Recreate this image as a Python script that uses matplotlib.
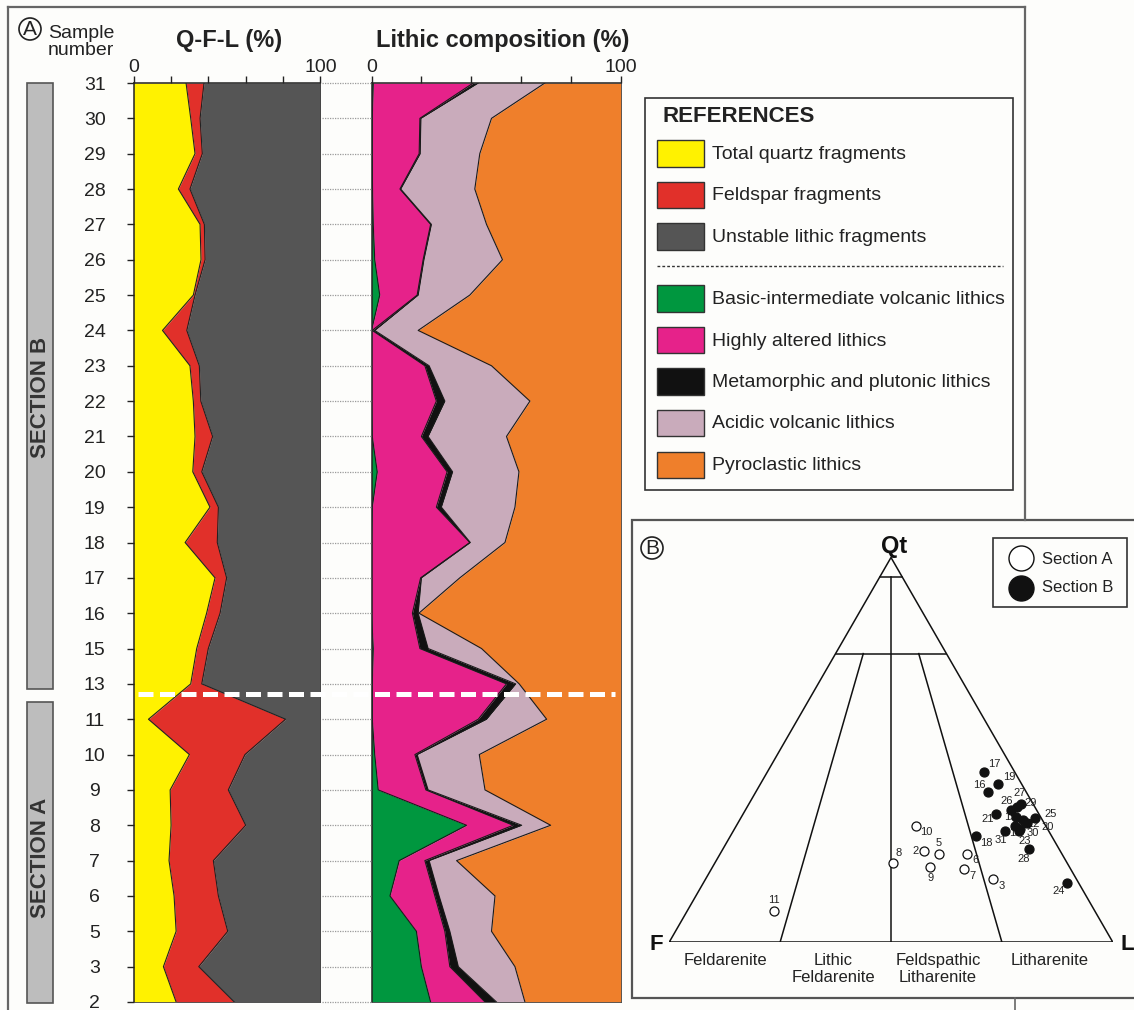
import numpy as np
import matplotlib.pyplot as plt
from matplotlib.patches import Rectangle, Circle

plt.rcParams['font.family'] = ['Liberation Sans', 'DejaVu Sans']

# ---- data ---------------------------------------------------------------
samples = ['31', '30', '29', '28', '27', '26', '25', '24', '23', '22', '21', '20',
           '19', '18', '17', '16', '15', '13', '11', '10', '9', '8', '7', '6', '5', '3', '2']

# Q-F-L (%)
quartz = [28.1, 30.6, 32.9, 24.0, 35.6, 36.1, 32.0, 15.5, 30.2, 32.0, 32.9, 31.7,
          40.9, 27.6, 43.6, 39.1, 33.8, 30.6, 8.0, 29.9, 19.6, 20.1, 19.0, 21.7, 22.8, 16.0, 22.8]
feldspar = [9.6, 5.0, 3.9, 6.2, 2.3, 2.2, 0.9, 13.0, 5.0, 4.0, 9.4, 4.8,
            4.5, 17.2, 6.2, 7.2, 6.2, 5.9, 73.3, 29.7, 31.1, 39.9, 23.7, 23.7, 27.6, 18.9, 31.1]
lithic = [62.3, 64.4, 63.2, 69.8, 62.1, 61.7, 67.1, 71.5, 64.8, 64.0, 57.7, 63.5,
          54.6, 55.2, 50.2, 53.7, 60.0, 63.5, 18.7, 40.4, 49.3, 40.0, 57.3, 54.6, 49.6, 65.1, 46.1]

# Lithic composition (%)
basic_volc = [0.7, 0.3, 0.3, 0.4, 0.7, 1.3, 3.3, 0.0, 0.0, 0.0, 0.3, 2.3,
              0.3, 0.0, 0.0, 0.0, 0.7, 0.3, 0.3, 1.3, 2.7, 38.1, 11.1, 7.4, 18.0, 20.0, 23.7]
altered = [40.1, 19.1, 18.8, 11.0, 23.0, 19.4, 15.0, 0.3, 21.4, 26.0, 19.7, 28.0,
           25.7, 39.4, 19.7, 16.4, 18.7, 53.8, 42.5, 16.1, 19.1, 18.7, 10.3, 18.0, 11.4, 11.4, 21.8]
meta_pluton = [2.0, 0.4, 0.4, 0.3, 0.3, 0.3, 0.4, 1.0, 1.7, 3.4, 2.7, 2.2,
               2.0, 0.2, 0.3, 2.3, 3.3, 3.7, 3.3, 0.9, 0.9, 3.4, 1.7, 1.7, 2.0, 3.4, 4.6]
acidic_volc = [26.7, 28.3, 23.9, 29.7, 22.1, 31.5, 20.7, 17.4, 25.0, 34.1, 31.4, 26.6,
               29.5, 13.9, 15.4, 0.3, 21.4, 1.4, 24.1, 24.9, 22.8, 11.6, 11.0, 22.4, 16.7, 22.7, 11.4]
pyroclastic = [30.5, 51.9, 56.6, 58.6, 53.9, 47.5, 60.6, 81.3, 51.9, 36.5, 45.9, 40.9,
               42.5, 46.5, 64.6, 81.0, 55.9, 40.8, 29.8, 56.8, 54.5, 28.2, 65.9, 50.5, 51.9, 42.5, 38.5]

# Ternary Qt-F-L (%) points
sec_a_ids = ['11', '10', '9', '8', '7', '6', '5', '3', '2']
sec_a_q = [8.1, 30.1, 19.5, 20.6, 19.0, 22.8, 22.9, 16.4, 23.6]
sec_a_f = [72.3, 29.4, 31.4, 39.2, 24.0, 21.5, 27.7, 18.7, 30.8]
sec_a_l = [19.6, 40.5, 49.1, 40.2, 57.0, 55.7, 49.4, 64.9, 45.6]

sec_b_ids = ['31', '30', '29', '28', '27', '26', '25', '24', '23', '22', '21', '20',
             '19', '18', '17', '16', '15', '13']
sec_b_q = [28.8, 29.4, 35.1, 24.1, 35.8, 34.2, 32.3, 15.4, 28.8, 31.7, 33.4, 30.9,
           41.2, 27.6, 44.1, 39.0, 32.5, 30.1]
sec_b_f = [9.9, 6.2, 4.1, 6.8, 2.7, 5.9, 1.3, 2.6, 6.8, 4.4, 9.7, 3.9,
           5.2, 17.1, 6.9, 8.7, 5.6, 7.0]
sec_b_l = [61.3, 64.4, 60.8, 69.1, 61.5, 59.9, 66.4, 82.0, 64.4, 63.9, 56.9, 65.2,
           53.6, 55.3, 49.0, 52.3, 61.9, 62.9]

# label offsets (points) for ternary sample numbers
lab_off = {'11': (0, 8), '10': (8, -4), '9': (0, -8), '8': (4, 7), '7': (6, -5),
           '6': (6, -4), '5': (0, 8), '3': (6, -5), '2': (-6, 0),
           '31': (-3, -6), '30': (9, -3), '29': (10, 3), '28': (-4, -7), '27': (-1, 8),
           '26': (-3, 7), '25': (11, 3), '24': (-6, -6), '23': (4, -7), '22': (8, -3),
           '21': (-6, -4), '20': (15, -3), '19': (8, 5), '18': (8, -5), '17': (7, 6),
           '16': (-6, 5), '15': (-4, 0), '13': (0, -5)}

qfl_names = ['Total quartz fragments', 'Feldspar fragments', 'Unstable lithic fragments']
lith_names = ['Basic-intermediate volcanic lithics', 'Highly altered lithics',
              'Metamorphic and plutonic lithics', 'Acidic volcanic lithics', 'Pyroclastic lithics']
qfl_colors = ['#fff200', '#e1302a', '#555555']
lith_colors = ['#00973f', '#e6228a', '#111111', '#c9abbb', '#ef7f2b']

# ---- figure -------------------------------------------------------------
W, H = 1134, 1010
BG = '#fdfdfb'
fig = plt.figure(figsize=(W / 100, H / 100), dpi=100, facecolor=BG)


def fbox(x0, y0, x1, y1):
    return [x0 / W, 1 - y1 / H, (x1 - x0) / W, (y1 - y0) / H]


ov = fig.add_axes([0, 0, 1, 1])
ov.set_xlim(0, W)
ov.set_ylim(H, 0)
ov.axis('off')
ov.set_zorder(0)

# panel frames
fc = '#666666'
ov.plot([8, 1025], [7, 7], color=fc, lw=1.6)
ov.plot([8, 8], [7, 1012], color=fc, lw=1.6)
ov.plot([1025, 1025], [7, 520], color=fc, lw=1.6)
ov.plot([1015, 1015], [998, 1012], color=fc, lw=1.2)
ov.add_patch(Rectangle((632, 520), 520, 478, facecolor=BG, edgecolor='#555555', lw=1.6))

# panel letters
for (cx, cy, letter) in [(30, 29, 'A'), (652, 548, 'B')]:
    ov.add_patch(Circle((cx, cy), 11, facecolor='none', edgecolor='#222222', lw=1.2))
    ov.text(cx, cy + 0.5, letter, ha='center', va='center', fontsize=15, color='#222222')
ov.text(81, 42, 'Sample\nnumber', ha='center', va='center', fontsize=14,
        linespacing=0.95, color='#222222')

# section bars
for (y0, y1, yt, name) in [(83, 689, 397, 'SECTION B'), (702, 1003, 858, 'SECTION A')]:
    ov.add_patch(Rectangle((26.7, y0), 26.6, y1 - y0, facecolor='#bdbdbd',
                           edgecolor='#555555', lw=1.2))
    ov.text(40, yt, name, rotation=90, ha='center', va='center', fontsize=16,
            fontweight='bold', color='#333333')

# titles
ov.text(229, 41, 'Q-F-L (%)', ha='center', va='center', fontsize=17, fontweight='bold',
        color='#222222')
ov.text(503, 41, 'Lithic composition (%)', ha='center', va='center', fontsize=17,
        fontweight='bold', color='#222222')

# ---- Q-F-L column -------------------------------------------------------
n = len(samples)
yy = np.arange(n)
q = np.array(quartz)
f = np.array(feldspar)
l = np.array(lithic)

ax1 = fig.add_axes(fbox(133.5, 83, 320.5, 1002))
ax1.set_zorder(3)
ax1.patch.set_alpha(0)
cum = np.vstack([np.zeros(n), q, q + f, q + f + l])
for i in range(3):
    ax1.fill_betweenx(yy, cum[i], cum[i + 1], color=qfl_colors[i], lw=0)
for i in (1, 2):
    ax1.plot(cum[i], yy, color='#222222', lw=0.8)
ax1.set_xlim(0, 100)
ax1.set_ylim(n - 1, 0)

# ---- lithic column ------------------------------------------------------
lith = np.array([basic_volc, altered, meta_pluton, acidic_volc, pyroclastic])
lith = lith / lith.sum(axis=0) * 100
lcum = np.vstack([np.zeros(n), np.cumsum(lith, axis=0)])

ax2 = fig.add_axes(fbox(371.5, 83, 621, 1002))
ax2.set_zorder(2)
for i in range(5):
    ax2.fill_betweenx(yy, lcum[i], lcum[i + 1], color=lith_colors[i], lw=0)
for i in range(1, 5):
    ax2.plot(lcum[i], yy, color='#1a1a1a', lw=0.8)
ax2.set_xlim(0, 100)
ax2.set_ylim(n - 1, 0)

for ax in (ax1, ax2):
    ax.xaxis.tick_top()
    ax.set_xticks([0, 20, 40, 60, 80, 100])
    ax.set_xticklabels(['0', '', '', '', '', '100'])
    ax.tick_params(axis='x', direction='out', length=5, width=1, pad=0,
                   labelsize=14, colors='#222222')
    for s in ('top', 'left'):
        ax.spines[s].set_color('#222222')
        ax.spines[s].set_linewidth(1.1)
    for s in ('right', 'bottom'):
        ax.spines[s].set_color('#444444')
        ax.spines[s].set_linewidth(0.6)

ax1.set_yticks(yy)
ax1.set_yticklabels(samples)
ax1.tick_params(axis='y', direction='out', length=5, width=1, pad=23,
                labelsize=14, colors='#222222')
for lab in ax1.get_yticklabels():
    lab.set_ha('center')
ax2.set_yticks([])

# dotted guides between the two columns
ax1.hlines(yy, 100.8, 126.8, colors='#9a9a9a', linestyles=(0, (1, 1)), lw=0.9,
           clip_on=False)
# section boundary
ax1.plot([2.4, 257.5], [17.3, 17.3], color='white', lw=3.6, dashes=(3, 1.3),
         clip_on=False, zorder=10)

# ---- references legend --------------------------------------------------
ov.add_patch(Rectangle((645, 98), 368, 392, facecolor=BG, edgecolor='#333333', lw=1.2))
ov.text(662, 117, 'REFERENCES', ha='left', va='center', fontsize=16, fontweight='bold',
        color='#222222')
leg_y = [153.5, 195, 236.7, 298.7, 340, 381.7, 423, 465]
for yc, name, col in zip(leg_y, qfl_names + lith_names, qfl_colors + lith_colors):
    ov.add_patch(Rectangle((657, yc - 13.3), 47, 26.6, facecolor=col, edgecolor='#333333',
                           lw=1.0))
    ov.text(712, yc + 1, name, ha='left', va='center', fontsize=14, color='#222222')
ov.plot([657, 1003], [266, 266], color='#333333', lw=1, linestyle=(0, (2, 1.5)))

# ---- ternary diagram ----------------------------------------------------
s3 = np.sqrt(3) / 2
axT = fig.add_axes(fbox(669.3, 942 - 444 * s3, 1112.7, 942))
axT.set_xlim(0, 1)
axT.set_ylim(0, s3)
axT.axis('off')
axT.set_zorder(4)


def tern(qv, fv, lv):
    qv, fv, lv = np.asarray(qv), np.asarray(fv), np.asarray(lv)
    tot = qv + fv + lv
    return lv / tot + qv / tot / 2, qv / tot * s3


tk = dict(color='#111111', lw=1.1)
axT.plot([0, 1, 0.5, 0], [0, 0, s3, 0], **tk)
axT.plot([0.475, 0.525], [0.95 * s3, 0.95 * s3], **tk)
axT.plot([0.375, 0.625], [0.75 * s3, 0.75 * s3], **tk)
axT.plot([0.5, 0.5], [0, 0.95 * s3], **tk)
for fl in (0.25, 0.75):
    x_top, y_top = tern(75, 25 * (1 - fl), 25 * fl)
    axT.plot([fl, x_top], [0, y_top], **tk)

xa, ya = tern(sec_a_q, sec_a_f, sec_a_l)
xb, yb = tern(sec_b_q, sec_b_f, sec_b_l)
for ids, xs, ys in [(sec_a_ids, xa, ya), (sec_b_ids, xb, yb)]:
    for sid, xp, yp in zip(ids, xs, ys):
        axT.annotate(sid, (xp, yp), xytext=lab_off[sid], textcoords='offset points',
                     ha='center', va='center', fontsize=8, color='#222222', zorder=2)
axT.plot(xa, ya, 'o', ms=6.5, mfc='white', mec='#111111', mew=0.9, zorder=3)
axT.plot(xb, yb, 'o', ms=6.5, mfc='#111111', mec='#111111', mew=0.9, zorder=3)

ov2 = fig.add_axes([0, 0, 1, 1])
ov2.set_xlim(0, W)
ov2.set_ylim(H, 0)
ov2.axis('off')
ov2.set_zorder(5)
ov2.text(894, 546, 'Qt', ha='center', va='center', fontsize=17, fontweight='bold',
         color='#111111')
ov2.text(656, 945, 'F', ha='center', va='center', fontsize=16, fontweight='bold',
         color='#111111')
ov2.text(1127, 945, 'L', ha='center', va='center', fontsize=16, fontweight='bold',
         color='#111111')
for xc, txt in [(725, 'Feldarenite'), (833, 'Lithic\nFeldarenite'),
                (938, 'Feldspathic\nLitharenite'), (1050, 'Litharenite')]:
    ov2.text(xc, 953, txt, ha='center', va='top', fontsize=12, linespacing=1.15,
             color='#222222')

# section legend
ov2.add_patch(Rectangle((993, 538), 134, 69, facecolor=BG, edgecolor='#333333', lw=1.2))
ov2.plot([1020.7], [558.3], 'o', ms=18, mfc='white', mec='#111111', mew=1.0)
ov2.plot([1020.7], [587.7], 'o', ms=18, mfc='#111111', mec='#111111', mew=1.0)
ov2.text(1042, 559, 'Section A', ha='left', va='center', fontsize=12, color='#222222')
ov2.text(1042, 588, 'Section B', ha='left', va='center', fontsize=12, color='#222222')

fig.savefig('out.png', dpi=100, facecolor=BG)
